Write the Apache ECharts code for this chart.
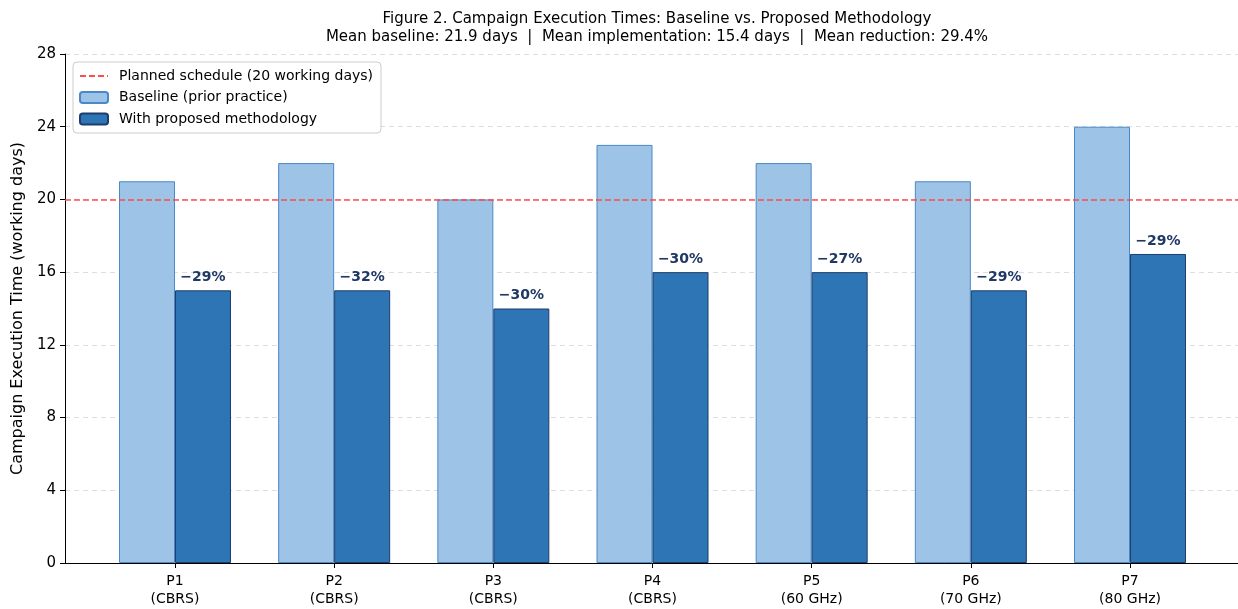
<!DOCTYPE html>
<html><head><meta charset="utf-8">
<script src="https://cdn.jsdelivr.net/npm/echarts@6/dist/echarts.min.js"></script>
<style>html,body{margin:0;padding:0;background:#fff}#c{width:1238px;height:609px}</style>
</head><body><div id="c"></div>
<script>
const categories = ['P1\n(CBRS)','P2\n(CBRS)','P3\n(CBRS)','P4\n(CBRS)','P5\n(60 GHz)','P6\n(70 GHz)','P7\n(80 GHz)'];
const baseline = [21,22,20,23,22,21,24];
const proposed = [15,15,14,16,16,15,17];
const reductionLabels = ['−29%','−32%','−30%','−30%','−27%','−29%','−29%'];
const plannedDays = 20;
const yTicks = {min:0, max:28, interval:4};

const font = 'DejaVu Sans';
const chart = echarts.init(document.getElementById('c'));
chart.setOption({
  animation:false,
  textStyle:{fontFamily:font},
  title:{
    text:'Figure 2. Campaign Execution Times: Baseline vs. Proposed Methodology',
    subtext:'Mean baseline: 21.9 days  |  Mean implementation: 15.4 days  |  Mean reduction: 29.4%',
    left:652, textAlign:'center', top:7, itemGap:3,
    textStyle:{fontFamily:font,fontSize:15,fontWeight:'normal',color:'#000'},
    subtextStyle:{fontFamily:font,fontSize:15,color:'#000'}
  },
  legend:{
    orient:'vertical', left:73, top:62, itemGap:7.5, itemWidth:28, itemHeight:11,
    backgroundColor:'#fff', borderColor:'#cccccc', borderWidth:1, borderRadius:4, padding:[7,8,7,6],
    textStyle:{fontFamily:font,fontSize:14,color:'#000',padding:[0,0,0,6]},
    data:[
      {name:'Planned schedule (20 working days)', itemStyle:{opacity:0}},
      'Baseline (prior practice)','With proposed methodology']
  },
  grid:[
    {left:65, right:0, top:54, bottom:46},
    {left:95.4, right:28.4, top:54, bottom:46}
  ],
  xAxis:[
    {type:'value', gridIndex:0, min:0, max:1, axisLabel:{show:false}, axisTick:{show:false}, splitLine:{show:false},
     axisLine:{show:true,lineStyle:{color:'#000',width:1}}},
    {type:'category', gridIndex:1, data:categories,
     axisLine:{show:false}, axisTick:{show:true,alignWithLabel:true,length:5,lineStyle:{color:'#000'}},
     axisLabel:{fontFamily:font,fontSize:14,color:'#000',lineHeight:18,margin:9}}
  ],
  yAxis:[
    {type:'value', gridIndex:0, min:yTicks.min, max:yTicks.max, interval:yTicks.interval,
     name:'Campaign Execution Time (working days)', nameLocation:'middle', nameGap:37,
     nameTextStyle:{fontFamily:font,fontSize:16,color:'#000'},
     axisLine:{show:true,lineStyle:{color:'#000',width:1}},
     axisTick:{show:true,length:5,lineStyle:{color:'#000'}},
     axisLabel:{fontFamily:font,fontSize:15,color:'#000',margin:9},
     splitLine:{show:true,lineStyle:{color:'#dddddd',type:[5,4],width:1}}},
    {type:'value', gridIndex:1, min:yTicks.min, max:yTicks.max, interval:yTicks.interval, show:false, splitLine:{show:false}}
  ],
  series:[
    {name:'Planned schedule (20 working days)', type:'line', xAxisIndex:0, yAxisIndex:0, data:[], symbol:'none',
     itemStyle:{color:'#ff4d4d'},
     lineStyle:{color:'#ff4d4d', type:[6,3], width:1.7},
     markLine:{silent:true, symbol:['none','none'], label:{show:false},
       lineStyle:{color:'#ff4444', type:[6,3], width:1.7, opacity:0.95}, data:[{yAxis:plannedDays}]},
     z:5},
    {name:'Baseline (prior practice)', type:'bar', xAxisIndex:1, yAxisIndex:1, data:baseline,
     barWidth:56, barGap:'0%',
     itemStyle:{color:'#9dc3e6', borderColor:'#4a89c8', borderWidth:1}},
    {name:'With proposed methodology', type:'bar', xAxisIndex:1, yAxisIndex:1, data:proposed,
     barWidth:56, barGap:'0%',
     itemStyle:{color:'#2e75b6', borderColor:'#1f3d6b', borderWidth:1},
     label:{show:true, position:'top', distance:6,
       formatter:p=>reductionLabels[p.dataIndex],
       fontFamily:font, fontSize:14, fontWeight:'bold', color:'#1f3864'}}
  ]
});
</script></body></html>
